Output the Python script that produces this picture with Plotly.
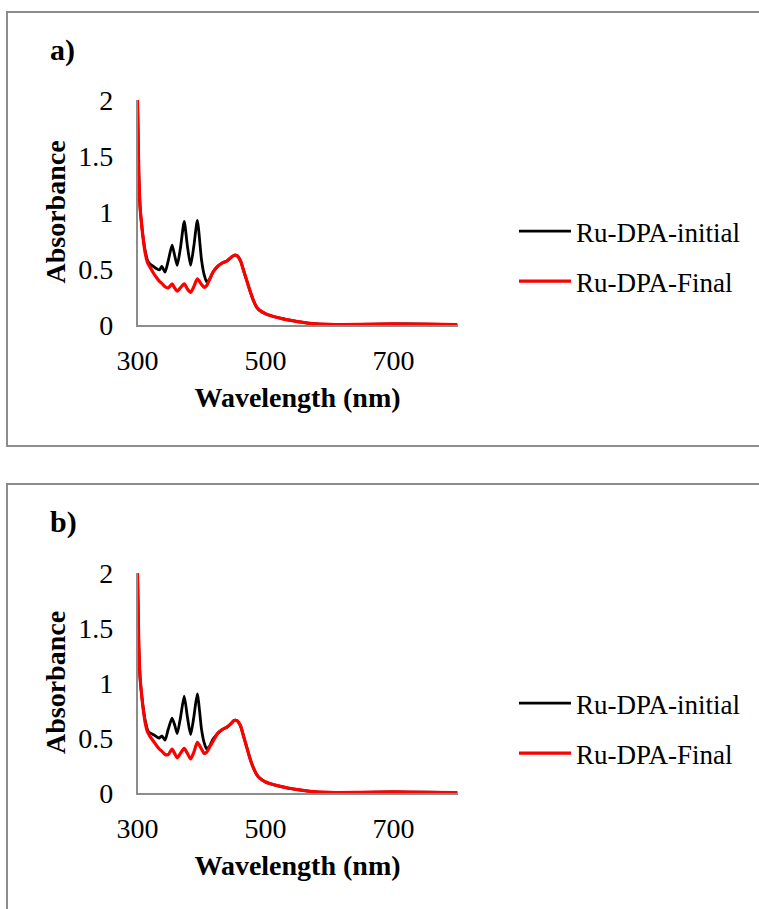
import plotly.graph_objects as go

# ---------------- data ----------------
wavelength = [300, 302, 304, 306, 309, 312, 316, 320, 325, 330,
              334, 338, 343, 348, 354, 358, 362, 367, 373, 378,
              383, 388, 393.5, 400, 404, 408, 413, 418, 425, 432,
              440, 446, 451, 456, 461, 466, 471, 476, 481, 486,
              491, 500, 510, 520, 535, 550, 570, 600, 650, 700,
              750, 800]

a_initial = [2.0, 1.35, 1.05, 0.92, 0.77, 0.66, 0.57, 0.54, 0.52, 0.50,
             0.49, 0.52, 0.47, 0.57, 0.71, 0.62, 0.53, 0.68, 0.92, 0.70,
             0.53, 0.70, 0.93, 0.58, 0.45, 0.385, 0.41, 0.47, 0.52, 0.55,
             0.57, 0.60, 0.62, 0.615, 0.57, 0.48, 0.39, 0.30, 0.22, 0.16,
             0.13, 0.10, 0.08, 0.065, 0.045, 0.03, 0.015, 0.005, 0.006, 0.01,
             0.007, 0.003]

a_final = [2.0, 1.35, 1.05, 0.92, 0.76, 0.64, 0.55, 0.51, 0.46, 0.42,
           0.39, 0.37, 0.34, 0.33, 0.365, 0.33, 0.30, 0.33, 0.365, 0.32,
           0.29, 0.34, 0.41, 0.36, 0.335, 0.35, 0.41, 0.47, 0.52, 0.55,
           0.57, 0.60, 0.62, 0.615, 0.57, 0.48, 0.39, 0.30, 0.22, 0.16,
           0.13, 0.10, 0.08, 0.065, 0.045, 0.03, 0.015, 0.005, 0.006, 0.01,
           0.007, 0.003]

b_initial = [2.0, 1.35, 1.05, 0.92, 0.77, 0.66, 0.57, 0.545, 0.53, 0.51,
             0.50, 0.52, 0.48, 0.58, 0.68, 0.62, 0.54, 0.68, 0.88, 0.69,
             0.53, 0.69, 0.90, 0.58, 0.46, 0.40, 0.43, 0.49, 0.54, 0.575,
             0.60, 0.63, 0.66, 0.655, 0.61, 0.51, 0.41, 0.31, 0.23, 0.17,
             0.135, 0.10, 0.08, 0.065, 0.045, 0.03, 0.015, 0.005, 0.006, 0.01,
             0.007, 0.003]

b_final = [2.0, 1.35, 1.05, 0.92, 0.76, 0.64, 0.55, 0.51, 0.47, 0.43,
           0.40, 0.38, 0.35, 0.35, 0.40, 0.36, 0.32, 0.36, 0.405, 0.36,
           0.31, 0.37, 0.46, 0.40, 0.36, 0.37, 0.42, 0.47, 0.54, 0.575,
           0.60, 0.63, 0.66, 0.655, 0.61, 0.51, 0.41, 0.31, 0.23, 0.17,
           0.135, 0.10, 0.08, 0.065, 0.045, 0.03, 0.015, 0.005, 0.006, 0.01,
           0.007, 0.003]

series_names = ["Ru-DPA-initial", "Ru-DPA-Final"]
panel_labels = ["a)", "b)"]
x_title = "Wavelength (nm)"
y_title = "Absorbance"
x_ticks = [300, 500, 700]
y_ticks = [0, 0.5, 1, 1.5, 2]
y_ticklabels = ["0", "0.5", "1", "1.5", "2"]

# ---------------- geometry ----------------
W, H = 759, 909
def px(x):
    return x / W
def py(y):
    return 1 - y / H

SERIF = "Liberation Serif, Times New Roman, serif"
AXIS_GRAY = "#8c8c8c"

fig = go.Figure()

panels = [
    dict(init=a_initial, fin=a_final, xa="x", ya="y", legend="legend", top=12, y0=325, y2=100),
    dict(init=b_initial, fin=b_final, xa="x2", ya="y2", legend="legend2", top=484, y0=793, y2=573),
]

for i, p in enumerate(panels):
    fig.add_trace(go.Scatter(
        x=wavelength, y=p["init"], mode="lines", name=series_names[0],
        line=dict(color="black", width=2.8, shape="spline", smoothing=0.6),
        xaxis=p["xa"], yaxis=p["ya"], legend=p["legend"], legendgroup=f"g{i}a",
    ))
    fig.add_trace(go.Scatter(
        x=wavelength, y=p["fin"], mode="lines", name=series_names[1],
        line=dict(color="#ff0000", width=3.2, shape="spline", smoothing=0.6),
        xaxis=p["xa"], yaxis=p["ya"], legend=p["legend"], legendgroup=f"g{i}b",
    ))

xdom = [px(137.5), px(457.5)]

def xaxis_cfg(anchor):
    return dict(
        domain=xdom, anchor=anchor, range=[300, 800], tickvals=x_ticks,
        showgrid=False, zeroline=False, showline=True, linecolor=AXIS_GRAY, linewidth=1.5,
        ticks="", ticklabelstandoff=10,
        tickfont=dict(family=SERIF, size=28, color="black"),
        title=dict(text=f"<b>{x_title}</b>", font=dict(family=SERIF, size=28, color="black"), standoff=12),
        automargin=False,
    )

def yaxis_cfg(anchor, dom):
    return dict(
        domain=dom, anchor=anchor, range=[0, 2], tickvals=y_ticks, ticktext=y_ticklabels,
        showgrid=False, zeroline=False, showline=True, linecolor=AXIS_GRAY, linewidth=1.5,
        ticks="", ticklabelstandoff=17,
        tickfont=dict(family=SERIF, size=28, color="black"),
        automargin=False,
    )

shapes = []
annotations = []
for i, p in enumerate(panels):
    # panel border
    shapes.append(dict(type="rect", xref="paper", yref="paper",
                       x0=px(7), x1=px(W + 20), y0=py(p["top"] + 434), y1=py(p["top"]),
                       line=dict(color=AXIS_GRAY, width=2), layer="below"))
    annotations.append(dict(text=f"<b>{panel_labels[i]}</b>", xref="paper", yref="paper",
                            x=px(48), y=py(p["top"] + 38), xanchor="left", yanchor="middle",
                            showarrow=False, font=dict(family=SERIF, size=30, color="black")))
    # y-axis title (vertical)
    annotations.append(dict(text=f"<b>{y_title}</b>", xref="paper", yref="paper",
                            x=px(55), y=py((p["y0"] + p["y2"]) / 2), xanchor="center", yanchor="middle",
                            textangle=-90, showarrow=False,
                            font=dict(family=SERIF, size=28, color="black")))

legend_common = dict(
    font=dict(family=SERIF, size=27, color="black"),
    bgcolor="rgba(0,0,0,0)", borderwidth=0, tracegroupgap=12,
    xanchor="left", yanchor="top", itemwidth=52, traceorder="grouped",
)

fig.update_layout(
    width=W, height=H,
    margin=dict(l=0, r=0, t=0, b=0),
    paper_bgcolor="white", plot_bgcolor="white",
    xaxis=xaxis_cfg("y"),
    yaxis=yaxis_cfg("x", [py(325), py(100)]),
    xaxis2=xaxis_cfg("y2"),
    yaxis2=yaxis_cfg("x2", [py(793), py(573)]),
    legend=dict(x=px(514), y=py(207), **legend_common),
    legend2=dict(x=px(514), y=py(679), **legend_common),
    shapes=shapes,
    annotations=annotations,
    showlegend=True,
)

fig.write_html("out.html")
